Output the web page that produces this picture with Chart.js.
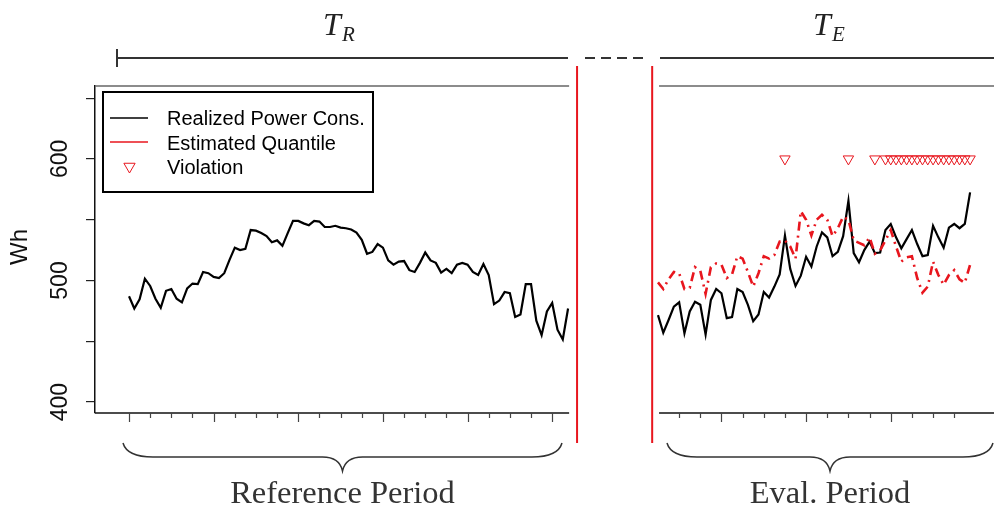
<!DOCTYPE html>
<html>
<head>
<meta charset="utf-8">
<script src="https://cdn.jsdelivr.net/npm/chart.js@4.4.1/dist/chart.umd.min.js"></script>
<style>
  html, body { margin: 0; padding: 0; background: #fff; }
  #wrap { width: 994px; height: 506px; }
</style>
</head>
<body>
<div id="wrap"><canvas id="lastChart" width="994" height="506"></canvas></div>
<script>
// === Daten (Wh) ===
// Referenzzeitraum T_R: gemessener Verbrauch, Zeitindex 0..83
const refWerte = [
  487, 477, 484.5, 501.5, 495.5, 485, 477.5, 491.5, 493, 485,
  482, 493.5, 497.5, 497, 507, 506, 503, 502, 506, 517,
  527, 525, 526, 541.5, 541, 539, 536.5, 531.5, 533, 528.5,
  539, 549, 549, 547, 545.5, 549, 548.5, 544, 544, 545,
  543.5, 543, 542, 539.5, 533.5, 522, 523.5, 530, 527, 516.5,
  513, 515.5, 516, 508.5, 507, 514.5, 523, 516.5, 514.5, 506.5,
  509.5, 506, 513, 514.5, 513, 507, 504.5, 513.5, 504.5, 480.5,
  483.5, 490.5, 489.5, 470, 472, 497, 497, 467, 455, 474.5,
  481.5, 459.5, 451.5, 477
];

// Evaluationszeitraum T_E beginnt bei Zeitindex 100
const evalStart = 100;
const evalWerte = [
  471.5, 457, 467.5, 478.5, 482, 456.5, 474.5, 482.5, 480, 455.5,
  484, 493, 489.5, 469, 470, 493, 490.5, 480, 466.5, 472,
  490.5, 486, 495, 505, 537, 509.5, 495.5, 504, 519.5, 511.5,
  528, 539.5, 535.5, 520, 523.5, 536.5, 565.5, 522.5, 515, 525,
  532, 522.5, 523, 541.5, 546.5, 535.5, 526.5, 534, 541.5, 530,
  520, 521, 545, 535.5, 527, 543.5, 546.5, 543, 546.5, 572.5
];
const quantilWerte = [
  498.5, 493, 501, 507, 506, 493, 494, 511, 508, 489,
  511, 514, 513, 502, 505, 520, 518, 507, 495, 506,
  520, 518, 521, 532, 533, 528, 518, 557, 550, 537,
  550, 554, 550, 536.5, 543, 552.5, 550, 533, 531, 529,
  535.5, 522, 525, 533, 541.5, 528, 515.5, 519, 520, 502,
  490, 495, 515.5, 504.5, 496.5, 504.5, 508.5, 501, 498, 513
];

// Zeitpunkte mit Verletzung (Markierung auf Höhe 600 Wh)
const verletzungen = [124, 136, 141, 143, 144, 145, 146, 147, 148, 149, 150,
  151, 152, 153, 154, 155, 156, 157, 158, 159];
const verletzungsNiveau = 600;

const yTicks = [400, 450, 500, 550, 600, 650];
const yLabels = [400, 500, 600];

const ROT = '#e8161e';
const SANS = "'Liberation Sans', Arial, sans-serif";
const SERIF = "'Liberation Serif', 'Times New Roman', serif";

function strich(c, x1, y1, x2, y2) {
  c.beginPath(); c.moveTo(x1, y1); c.lineTo(x2, y2); c.stroke();
}

function klammer(c, x0, x1, yOben, yMitte, ySpitze) {
  const m = (x0 + x1) / 2, r = 30, rs = 20;
  c.beginPath();
  c.moveTo(x0, yOben);
  c.quadraticCurveTo(x0 + 4, yMitte, x0 + r, yMitte);
  c.lineTo(m - rs, yMitte);
  c.quadraticCurveTo(m - 3, yMitte, m, ySpitze);
  c.quadraticCurveTo(m + 3, yMitte, m + rs, yMitte);
  c.lineTo(x1 - r, yMitte);
  c.quadraticCurveTo(x1 - 4, yMitte, x1, yOben);
  c.stroke();
}

function dreieck(c, x, y, r) {
  c.beginPath();
  c.moveTo(x - r * 0.866, y - r / 2);
  c.lineTo(x + r * 0.866, y - r / 2);
  c.lineTo(x, y + r);
  c.closePath();
  c.stroke();
}

// === Dekoration: Achsen, Klammern, Legende, Beschriftungen ===
const deko = {
  id: 'deko',
  beforeDraw(chart) {
    const c = chart.ctx;
    c.save();
    c.fillStyle = '#fff';
    c.fillRect(0, 0, chart.width, chart.height);
    c.restore();
  },
  afterDraw(chart) {
    const c = chart.ctx;
    const { x, y } = chart.scales;
    const ca = chart.chartArea;
    const px = v => x.getPixelForValue(v);
    const refEnde = px(refWerte.length - 1 + 0.2);
    const evalAnfang = px(evalStart + 0.2);

    c.save();
    c.lineCap = 'butt';

    // obere Panel-Linien
    c.strokeStyle = '#666';
    c.lineWidth = 1.6;
    strich(c, ca.left, ca.top, refEnde, ca.top);
    strich(c, evalAnfang, ca.top, ca.right, ca.top);

    // x-Achsen
    c.strokeStyle = '#111';
    c.lineWidth = 1.5;
    strich(c, ca.left, ca.bottom, refEnde, ca.bottom);
    strich(c, evalAnfang, ca.bottom, ca.right, ca.bottom);

    c.strokeStyle = '#444';
    c.lineWidth = 1.2;
    const tick = i => {
      const lang = i % 16 === 0 ? 9 : 5;
      strich(c, Math.round(px(i)) + 0.5, ca.bottom, Math.round(px(i)) + 0.5, ca.bottom + lang);
    };
    for (let i = 0; i < refWerte.length; i += 4) tick(i);
    for (let i = evalStart + 4; i < evalStart + evalWerte.length; i += 4) tick(i);

    // rote Trennlinien
    c.strokeStyle = ROT;
    c.lineWidth = 2;
    strich(c, px(84.7), 66, px(84.7), 443);
    strich(c, px(98.9), 66, px(98.9), 443);

    // Zeitstrahl oben
    c.strokeStyle = '#333';
    c.lineWidth = 2;
    strich(c, 117, 49, 117, 67);
    strich(c, 117, 58, 568, 58);
    strich(c, 660, 58, 994, 58);
    c.setLineDash([10, 6]);
    strich(c, 585, 58, 645, 58);
    c.setLineDash([]);

    // geschweifte Klammern
    c.lineWidth = 1.5;
    c.strokeStyle = '#333';
    klammer(c, 123, 562, 443, 457, 471);
    klammer(c, 667, 993, 443, 457, 471);

    // T_R und T_E
    c.fillStyle = '#222';
    c.textBaseline = 'alphabetic';
    c.textAlign = 'left';
    c.font = 'italic 32px ' + SERIF;
    c.fillText('T', 323, 35);
    c.fillText('T', 813, 35);
    c.font = 'italic 21px ' + SERIF;
    c.fillText('R', 342, 41);
    c.fillText('E', 832, 41);

    // Zeitraum-Beschriftung
    c.textAlign = 'center';
    c.font = '32.5px ' + SERIF;
    c.fillStyle = '#333';
    c.fillText('Reference Period', 342.5, 503);
    c.fillText('Eval. Period', 830, 503);

    // y-Beschriftungen (gedreht)
    c.fillStyle = '#111';
    c.textBaseline = 'middle';
    c.font = '23px ' + SANS;
    yLabels.forEach(v => {
      c.save();
      c.translate(61, y.getPixelForValue(v));
      c.rotate(-Math.PI / 2);
      c.fillText(String(v), 0, 0);
      c.restore();
    });
    c.save();
    c.translate(20, 247);
    c.rotate(-Math.PI / 2);
    c.font = '24px ' + SANS;
    c.fillText('Wh', 0, 0);
    c.restore();

    // Legende
    c.strokeStyle = '#000';
    c.lineWidth = 2;
    c.strokeRect(103, 92, 270, 100);
    c.lineWidth = 1.5;
    strich(c, 110, 118, 148, 118);
    c.strokeStyle = ROT;
    strich(c, 110, 142, 148, 142);
    c.lineWidth = 1;
    dreieck(c, 129.5, 166.5, 6.5);
    c.fillStyle = '#000';
    c.textAlign = 'left';
    c.textBaseline = 'alphabetic';
    c.font = '20px ' + SANS;
    c.fillText('Realized Power Cons.', 167, 125);
    c.fillText('Estimated Quantile', 167, 150);
    c.fillText('Violation', 167, 174);

    c.restore();
  }
};

new Chart(document.getElementById('lastChart'), {
  type: 'line',
  data: {
    datasets: [
      {
        label: 'Violation',
        data: verletzungen.map(t => ({ x: t, y: verletzungsNiveau })),
        showLine: false,
        pointStyle: 'triangle',
        rotation: 180,
        pointRadius: 6,
        pointBorderWidth: 1,
        borderColor: ROT,
        backgroundColor: 'rgba(0,0,0,0)'
      },
      {
        label: 'Estimated Quantile',
        data: quantilWerte.map((v, i) => ({ x: evalStart + i, y: v })),
        borderColor: ROT,
        borderWidth: 2.6,
        borderDash: [9, 5, 2, 5],
        pointRadius: 0,
        tension: 0
      },
      {
        label: 'Realized Power Cons. (Eval)',
        data: evalWerte.map((v, i) => ({ x: evalStart + i, y: v })),
        borderColor: '#000',
        borderWidth: 2.2,
        pointRadius: 0,
        tension: 0
      },
      {
        label: 'Realized Power Cons.',
        data: refWerte.map((v, i) => ({ x: i, y: v })),
        borderColor: '#000',
        borderWidth: 2.2,
        pointRadius: 0,
        tension: 0
      }
    ]
  },
  options: {
    responsive: false,
    animation: false,
    devicePixelRatio: 1,
    layout: { autoPadding: false, padding: { top: 86, bottom: 93, left: 0, right: 0 } },
    scales: {
      x: { type: 'linear', min: -6.43, max: 163.52, display: false },
      y: {
        min: 391,
        max: 660,
        afterBuildTicks: s => { s.ticks = yTicks.map(v => ({ value: v })); },
        afterFit: s => { s.width = 95; },
        ticks: { display: false },
        grid: { drawOnChartArea: false, drawTicks: true, tickLength: 9, color: '#222', lineWidth: 1.2 },
        border: { display: true, color: '#111', width: 1.5 }
      }
    },
    plugins: {
      legend: { display: false },
      tooltip: { enabled: false }
    }
  },
  plugins: [deko]
});
</script>
</body>
</html>
